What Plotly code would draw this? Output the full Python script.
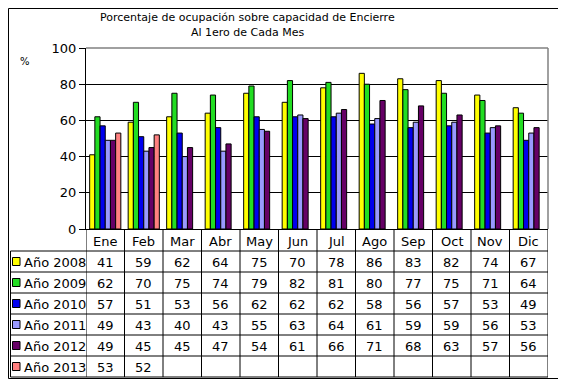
import plotly.graph_objects as go

months = ["Ene", "Feb", "Mar", "Abr", "May", "Jun", "Jul", "Ago", "Sep", "Oct", "Nov", "Dic"]
series_names = ["Año 2008", "Año 2009", "Año 2010", "Año 2011", "Año 2012", "Año 2013"]
v2008 = [41, 59, 62, 64, 75, 70, 78, 86, 83, 82, 74, 67]
v2009 = [62, 70, 75, 74, 79, 82, 81, 80, 77, 75, 71, 64]
v2010 = [57, 51, 53, 56, 62, 62, 62, 58, 56, 57, 53, 49]
v2011 = [49, 43, 40, 43, 55, 63, 64, 61, 59, 59, 56, 53]
v2012 = [49, 45, 45, 47, 54, 61, 66, 71, 68, 63, 57, 56]
v2013 = [53, 52, None, None, None, None, None, None, None, None, None, None]
y_ticks = [0, 20, 40, 60, 80, 100]
title_lines = ["Porcentaje de ocupación sobre capacidad de Encierre", "Al 1ero de Cada Mes"]

all_values = [v2008, v2009, v2010, v2011, v2012, v2013]
colors = ["#FFFF00", "#22DD22", "#0000EE", "#9999FF", "#660066", "#FF8080"]

W, H = 566, 383
OFF = 8  # default body margin of the html page
L, R, T, B = 86, 548, 48, 229  # plot area in page pixels
FONT = "DejaVu Sans"


def px(x):
    return (x - L) / (R - L)


def py(y):
    return (B - y) / (B - T)


fig = go.Figure()
for name, vals, col in zip(series_names, all_values, colors):
    fig.add_trace(go.Bar(x=months, y=vals, name=name, marker=dict(color=col, line=dict(color="black", width=1))))

shapes = []
annotations = []

# plot area gray top/right border
shapes.append(dict(type="line", xref="paper", yref="paper", x0=0, x1=1, y0=1, y1=1, line=dict(color="#808080", width=1.5)))
shapes.append(dict(type="line", xref="paper", yref="paper", x0=1, x1=1, y0=0, y1=1, line=dict(color="#808080", width=1.5)))

# outer frame (left/top edges limited by page margin)
shapes.append(dict(type="rect", xref="paper", yref="paper", x0=px(OFF + 0.5), x1=px(560), y0=py(OFF + 0.5), y1=py(378.5), line=dict(color="black", width=1)))

# table geometry
header_top = B
header_bot = 251
row_h = (377 - header_bot) / len(series_names)
row_edges = [header_bot + k * row_h for k in range(len(series_names) + 1)]
table_left = OFF + 2.5

for i in range(len(months) + 1):
    shapes.append(dict(type="line", xref="x", yref="paper", x0=i - 0.5, x1=i - 0.5, y0=py(header_top), y1=py(row_edges[-1]), line=dict(color="black", width=1)))
shapes.append(dict(type="line", xref="paper", yref="paper", x0=px(table_left), x1=px(table_left), y0=py(header_bot), y1=py(row_edges[-1]), line=dict(color="black", width=1)))
for yv in row_edges:
    shapes.append(dict(type="line", xref="paper", yref="paper", x0=px(table_left), x1=1, y0=py(yv), y1=py(yv), line=dict(color="black", width=1)))

for m in months:
    annotations.append(dict(x=m, xref="x", y=py((header_top + header_bot) / 2 + 1), yref="paper", text=m, showarrow=False, font=dict(family=FONT, size=13, color="black"), xanchor="center", yanchor="middle"))

for r, (name, vals, col) in enumerate(zip(series_names, all_values, colors)):
    yc = (row_edges[r] + row_edges[r + 1]) / 2
    shapes.append(dict(type="rect", xref="paper", yref="paper", x0=px(12.5), x1=px(20), y0=py(yc + 4), y1=py(yc - 4), fillcolor=col, line=dict(color="black", width=1)))
    annotations.append(dict(x=px(21.5), xref="paper", y=py(yc + 0.5), yref="paper", text=name, showarrow=False, font=dict(family=FONT, size=13, color="black"), xanchor="left", yanchor="middle"))
    for m, v in zip(months, vals):
        if v is None:
            continue
        annotations.append(dict(x=m, xref="x", y=py(yc + 0.5), yref="paper", text=str(v), showarrow=False, font=dict(family=FONT, size=13, color="black"), xanchor="center", yanchor="middle"))

annotations.append(dict(x=px(247), xref="paper", y=py(17), yref="paper", text=title_lines[0], showarrow=False, font=dict(family=FONT, size=11, color="black"), xanchor="center", yanchor="middle"))
annotations.append(dict(x=px(247), xref="paper", y=py(32), yref="paper", text=title_lines[1], showarrow=False, font=dict(family=FONT, size=11, color="black"), xanchor="center", yanchor="middle"))
annotations.append(dict(x=px(25), xref="paper", y=py(61), yref="paper", text="%", showarrow=False, font=dict(family=FONT, size=10, color="black"), xanchor="center", yanchor="middle"))

fig.update_layout(
    width=W, height=H,
    margin=dict(l=L - OFF, r=W - (R - OFF), t=T - OFF, b=H - (B - OFF), pad=0),
    paper_bgcolor="white", plot_bgcolor="white",
    barmode="group", bargap=0.19, bargroupgap=0,
    showlegend=False,
    shapes=shapes, annotations=annotations,
    xaxis=dict(range=[-0.5, 11.5], showticklabels=False, ticks="", showline=True, linecolor="black", linewidth=1, showgrid=False, zeroline=False),
    yaxis=dict(range=[0, 100], tickvals=y_ticks, ticks="outside", ticklen=6, tickcolor="black", showline=True, linecolor="black", linewidth=1,
               showgrid=True, gridcolor="black", gridwidth=1, zeroline=False, tickfont=dict(family=FONT, size=13, color="black")),
)

fig.write_html("out.html")
